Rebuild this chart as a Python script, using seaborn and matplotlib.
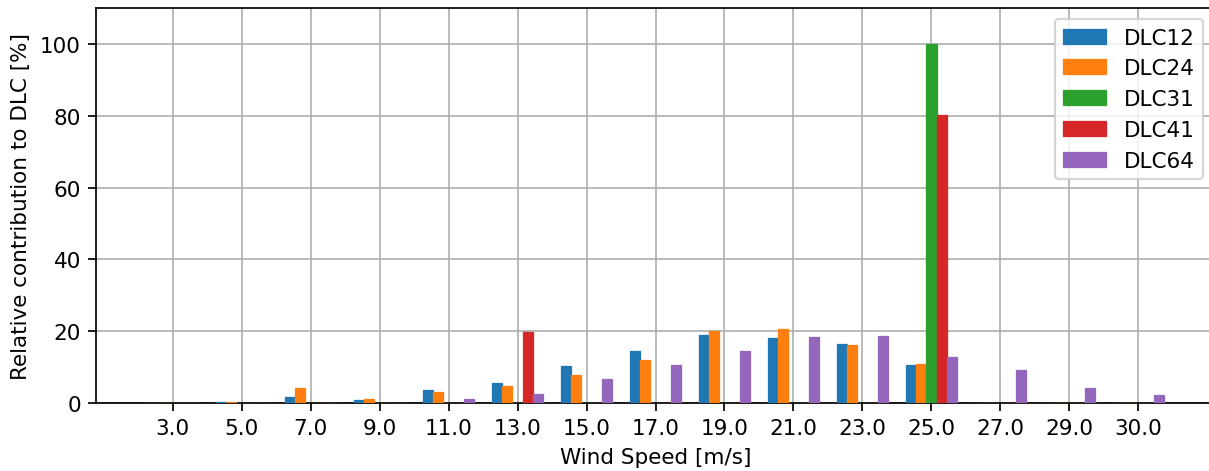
import matplotlib
matplotlib.use("Agg")
import matplotlib.pyplot as plt
import seaborn as sns
import pandas as pd

# wind speed bins (tick labels) and series values [%]
wind_speeds = ["3.0", "5.0", "7.0", "9.0", "11.0", "13.0", "15.0", "17.0",
               "19.0", "21.0", "23.0", "25.0", "27.0", "29.0", "30.0"]
dlc_names = ["DLC12", "DLC24", "DLC31", "DLC41", "DLC64"]

dlc12 = [0.1, 0.4, 1.6, 0.8, 3.6, 5.6, 10.3, 14.4, 18.9, 18.0, 16.4, 10.6, 0.0, 0.0, 0.0]
dlc24 = [0.1, 0.4, 4.2, 1.1, 3.0, 4.7, 7.8, 11.9, 20.0, 20.6, 16.1, 10.8, 0.0, 0.0, 0.0]
dlc31 = [0.0, 0.0, 0.0, 0.0, 0.0, 0.0, 0.0, 0.0, 0.0, 0.0, 0.0, 100.0, 0.0, 0.0, 0.0]
dlc41 = [0.0, 0.0, 0.0, 0.0, 0.0, 19.7, 0.0, 0.0, 0.0, 0.0, 0.0, 80.3, 0.0, 0.0, 0.0]
dlc64 = [0.0, 0.0, 0.0, 0.1, 1.0, 2.5, 6.7, 10.6, 14.4, 18.3, 18.6, 12.8, 9.2, 4.2, 2.2]

colors = ["#1f77b4", "#ff7f0e", "#2ca02c", "#d62728", "#9467bd"]

# long-form table for seaborn
frames = []
for name, vals in zip(dlc_names, [dlc12, dlc24, dlc31, dlc41, dlc64]):
    frames.append(pd.DataFrame({"ws": wind_speeds, "value": vals, "dlc": name}))
df = pd.concat(frames, ignore_index=True)

DPI = 155
W, H = 1209, 472
fig = plt.figure(figsize=(W / DPI, H / DPI), dpi=DPI)
# axes runs slightly past the right edge, as in the original
ax = fig.add_axes([96 / W, 68 / H, (1215 - 96) / W, (404 - 9) / H])

sns.barplot(
    data=df, x="ws", y="value", hue="dlc", order=wind_speeds, hue_order=dlc_names,
    palette=colors, saturation=1, width=0.75, errorbar=None, ax=ax,
)

# bars on top of grid and spine; thin edge so zero-height bars show on the baseline
for bar in ax.patches:
    bar.set_edgecolor(bar.get_facecolor())
    bar.set_linewidth(0.6)
    bar.set_zorder(3)

ax.set_xlim(-1.111, 15.111)
ax.set_ylim(0, 110)
ax.set_yticks([0, 20, 40, 60, 80, 100])
ax.set_xlabel("Wind Speed [m/s]")
ax.set_ylabel("Relative contribution to DLC [%]")
ax.grid(True)
ax.set_axisbelow(True)

handles, labels = ax.get_legend_handles_labels()
ax.legend(handles, labels, loc="upper right", bbox_to_anchor=(1203 / W, 1 - 20 / H),
          bbox_transform=fig.transFigure, borderaxespad=0)

fig.savefig("out.png", dpi=DPI)
